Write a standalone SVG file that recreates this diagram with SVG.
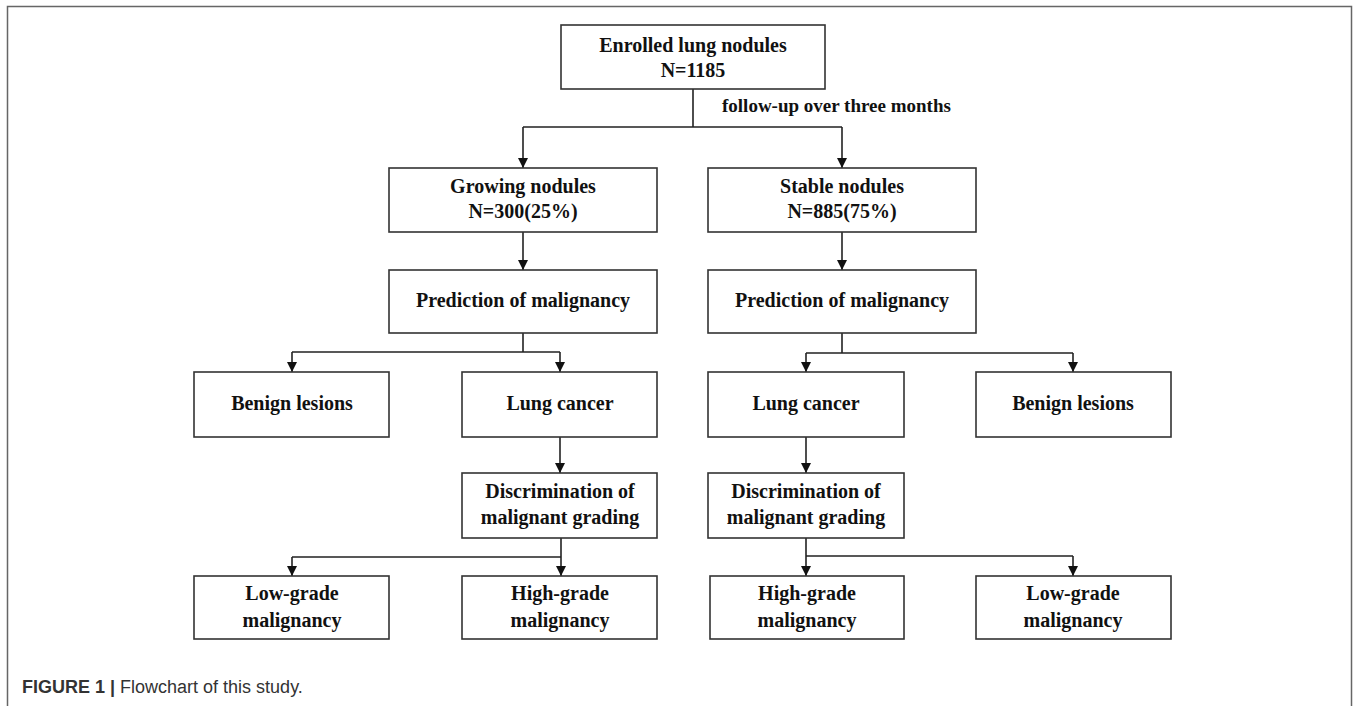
<svg xmlns="http://www.w3.org/2000/svg" width="1358" height="706" viewBox="0 0 1358 706">
<style>
.box{fill:#fff;stroke:#333;stroke-width:1.6}
.t{font-family:"Liberation Serif","Times New Roman",serif;font-weight:bold;font-size:20px;fill:#111;text-anchor:middle}
.c{fill:none;stroke:#222;stroke-width:1.6}
.cap{font-family:"Liberation Sans",Arial,sans-serif;font-size:18px;fill:#333}
</style>
<defs>
<marker id="ah" viewBox="0 0 10 10" refX="10" refY="5" markerWidth="10" markerHeight="10" markerUnits="userSpaceOnUse" orient="auto">
<path d="M0,0 L10,5 L0,10 z" fill="#111"/>
</marker>
</defs>
<rect x="0" y="0" width="1358" height="706" fill="#fff"/>
<rect x="7.5" y="6.5" width="1344" height="720" fill="none" stroke="#666" stroke-width="1.5"/>

<g id="connectors">
<path class="c" d="M693,89 V127 M523,127 H842"/>
<path class="c" d="M523,127 V168" marker-end="url(#ah)"/>
<path class="c" d="M842,127 V168" marker-end="url(#ah)"/>
<path class="c" d="M523,232 V270" marker-end="url(#ah)"/>
<path class="c" d="M842,232 V270" marker-end="url(#ah)"/>
<path class="c" d="M523,333 V352 M292,352 H560"/>
<path class="c" d="M292,352 V372" marker-end="url(#ah)"/>
<path class="c" d="M560,352 V372" marker-end="url(#ah)"/>
<path class="c" d="M842,333 V353 M806,353 H1073"/>
<path class="c" d="M806,353 V372" marker-end="url(#ah)"/>
<path class="c" d="M1073,353 V372" marker-end="url(#ah)"/>
<path class="c" d="M560,437 V473" marker-end="url(#ah)"/>
<path class="c" d="M806,437 V473" marker-end="url(#ah)"/>
<path class="c" d="M561,538 V557 M292,557 H561"/>
<path class="c" d="M292,557 V576" marker-end="url(#ah)"/>
<path class="c" d="M561,557 V576" marker-end="url(#ah)"/>
<path class="c" d="M806,538 V556 M806,556 H1073"/>
<path class="c" d="M806,556 V576" marker-end="url(#ah)"/>
<path class="c" d="M1073,556 V576" marker-end="url(#ah)"/>
<text class="t" x="722" y="112" style="text-anchor:start;font-size:19px">follow-up over three months</text>
</g>

<g id="enrolled">
<rect class="box" x="561" y="25" width="264" height="64"/>
<text class="t" x="693" y="52">Enrolled lung nodules</text>
<text class="t" x="693" y="77">N=1185</text>
</g>
<g id="growing">
<rect class="box" x="389" y="168" width="268" height="64"/>
<text class="t" x="523" y="193">Growing nodules</text>
<text class="t" x="523" y="218">N=300(25%)</text>
</g>
<g id="stable">
<rect class="box" x="708" y="168" width="268" height="64"/>
<text class="t" x="842" y="193">Stable nodules</text>
<text class="t" x="842" y="218">N=885(75%)</text>
</g>
<g id="pred-left">
<rect class="box" x="389" y="270" width="268" height="63"/>
<text class="t" x="523" y="307">Prediction of malignancy</text>
</g>
<g id="pred-right">
<rect class="box" x="708" y="270" width="268" height="63"/>
<text class="t" x="842" y="307">Prediction of malignancy</text>
</g>
<g id="benign-left">
<rect class="box" x="194" y="372" width="195" height="65"/>
<text class="t" x="292" y="410">Benign lesions</text>
</g>
<g id="cancer-left">
<rect class="box" x="462" y="372" width="195" height="65"/>
<text class="t" x="560" y="410">Lung cancer</text>
</g>
<g id="cancer-right">
<rect class="box" x="708" y="372" width="196" height="65"/>
<text class="t" x="806" y="410">Lung cancer</text>
</g>
<g id="benign-right">
<rect class="box" x="976" y="372" width="195" height="65"/>
<text class="t" x="1073" y="410">Benign lesions</text>
</g>
<g id="disc-left">
<rect class="box" x="462" y="473" width="195" height="65"/>
<text class="t" x="560" y="498">Discrimination of</text>
<text class="t" x="560" y="524">malignant grading</text>
</g>
<g id="disc-right">
<rect class="box" x="708" y="473" width="196" height="65"/>
<text class="t" x="806" y="498">Discrimination of</text>
<text class="t" x="806" y="524">malignant grading</text>
</g>
<g id="low-left">
<rect class="box" x="194" y="576" width="195" height="63"/>
<text class="t" x="292" y="600">Low-grade</text>
<text class="t" x="292" y="627">malignancy</text>
</g>
<g id="high-left">
<rect class="box" x="462" y="576" width="195" height="63"/>
<text class="t" x="560" y="600">High-grade</text>
<text class="t" x="560" y="627">malignancy</text>
</g>
<g id="high-right">
<rect class="box" x="710" y="576" width="194" height="63"/>
<text class="t" x="807" y="600">High-grade</text>
<text class="t" x="807" y="627">malignancy</text>
</g>
<g id="low-right">
<rect class="box" x="976" y="576" width="195" height="63"/>
<text class="t" x="1073" y="600">Low-grade</text>
<text class="t" x="1073" y="627">malignancy</text>
</g>

<text class="cap" x="22" y="693"><tspan font-weight="bold">FIGURE 1 | </tspan>Flowchart of this study.</text>
</svg>
